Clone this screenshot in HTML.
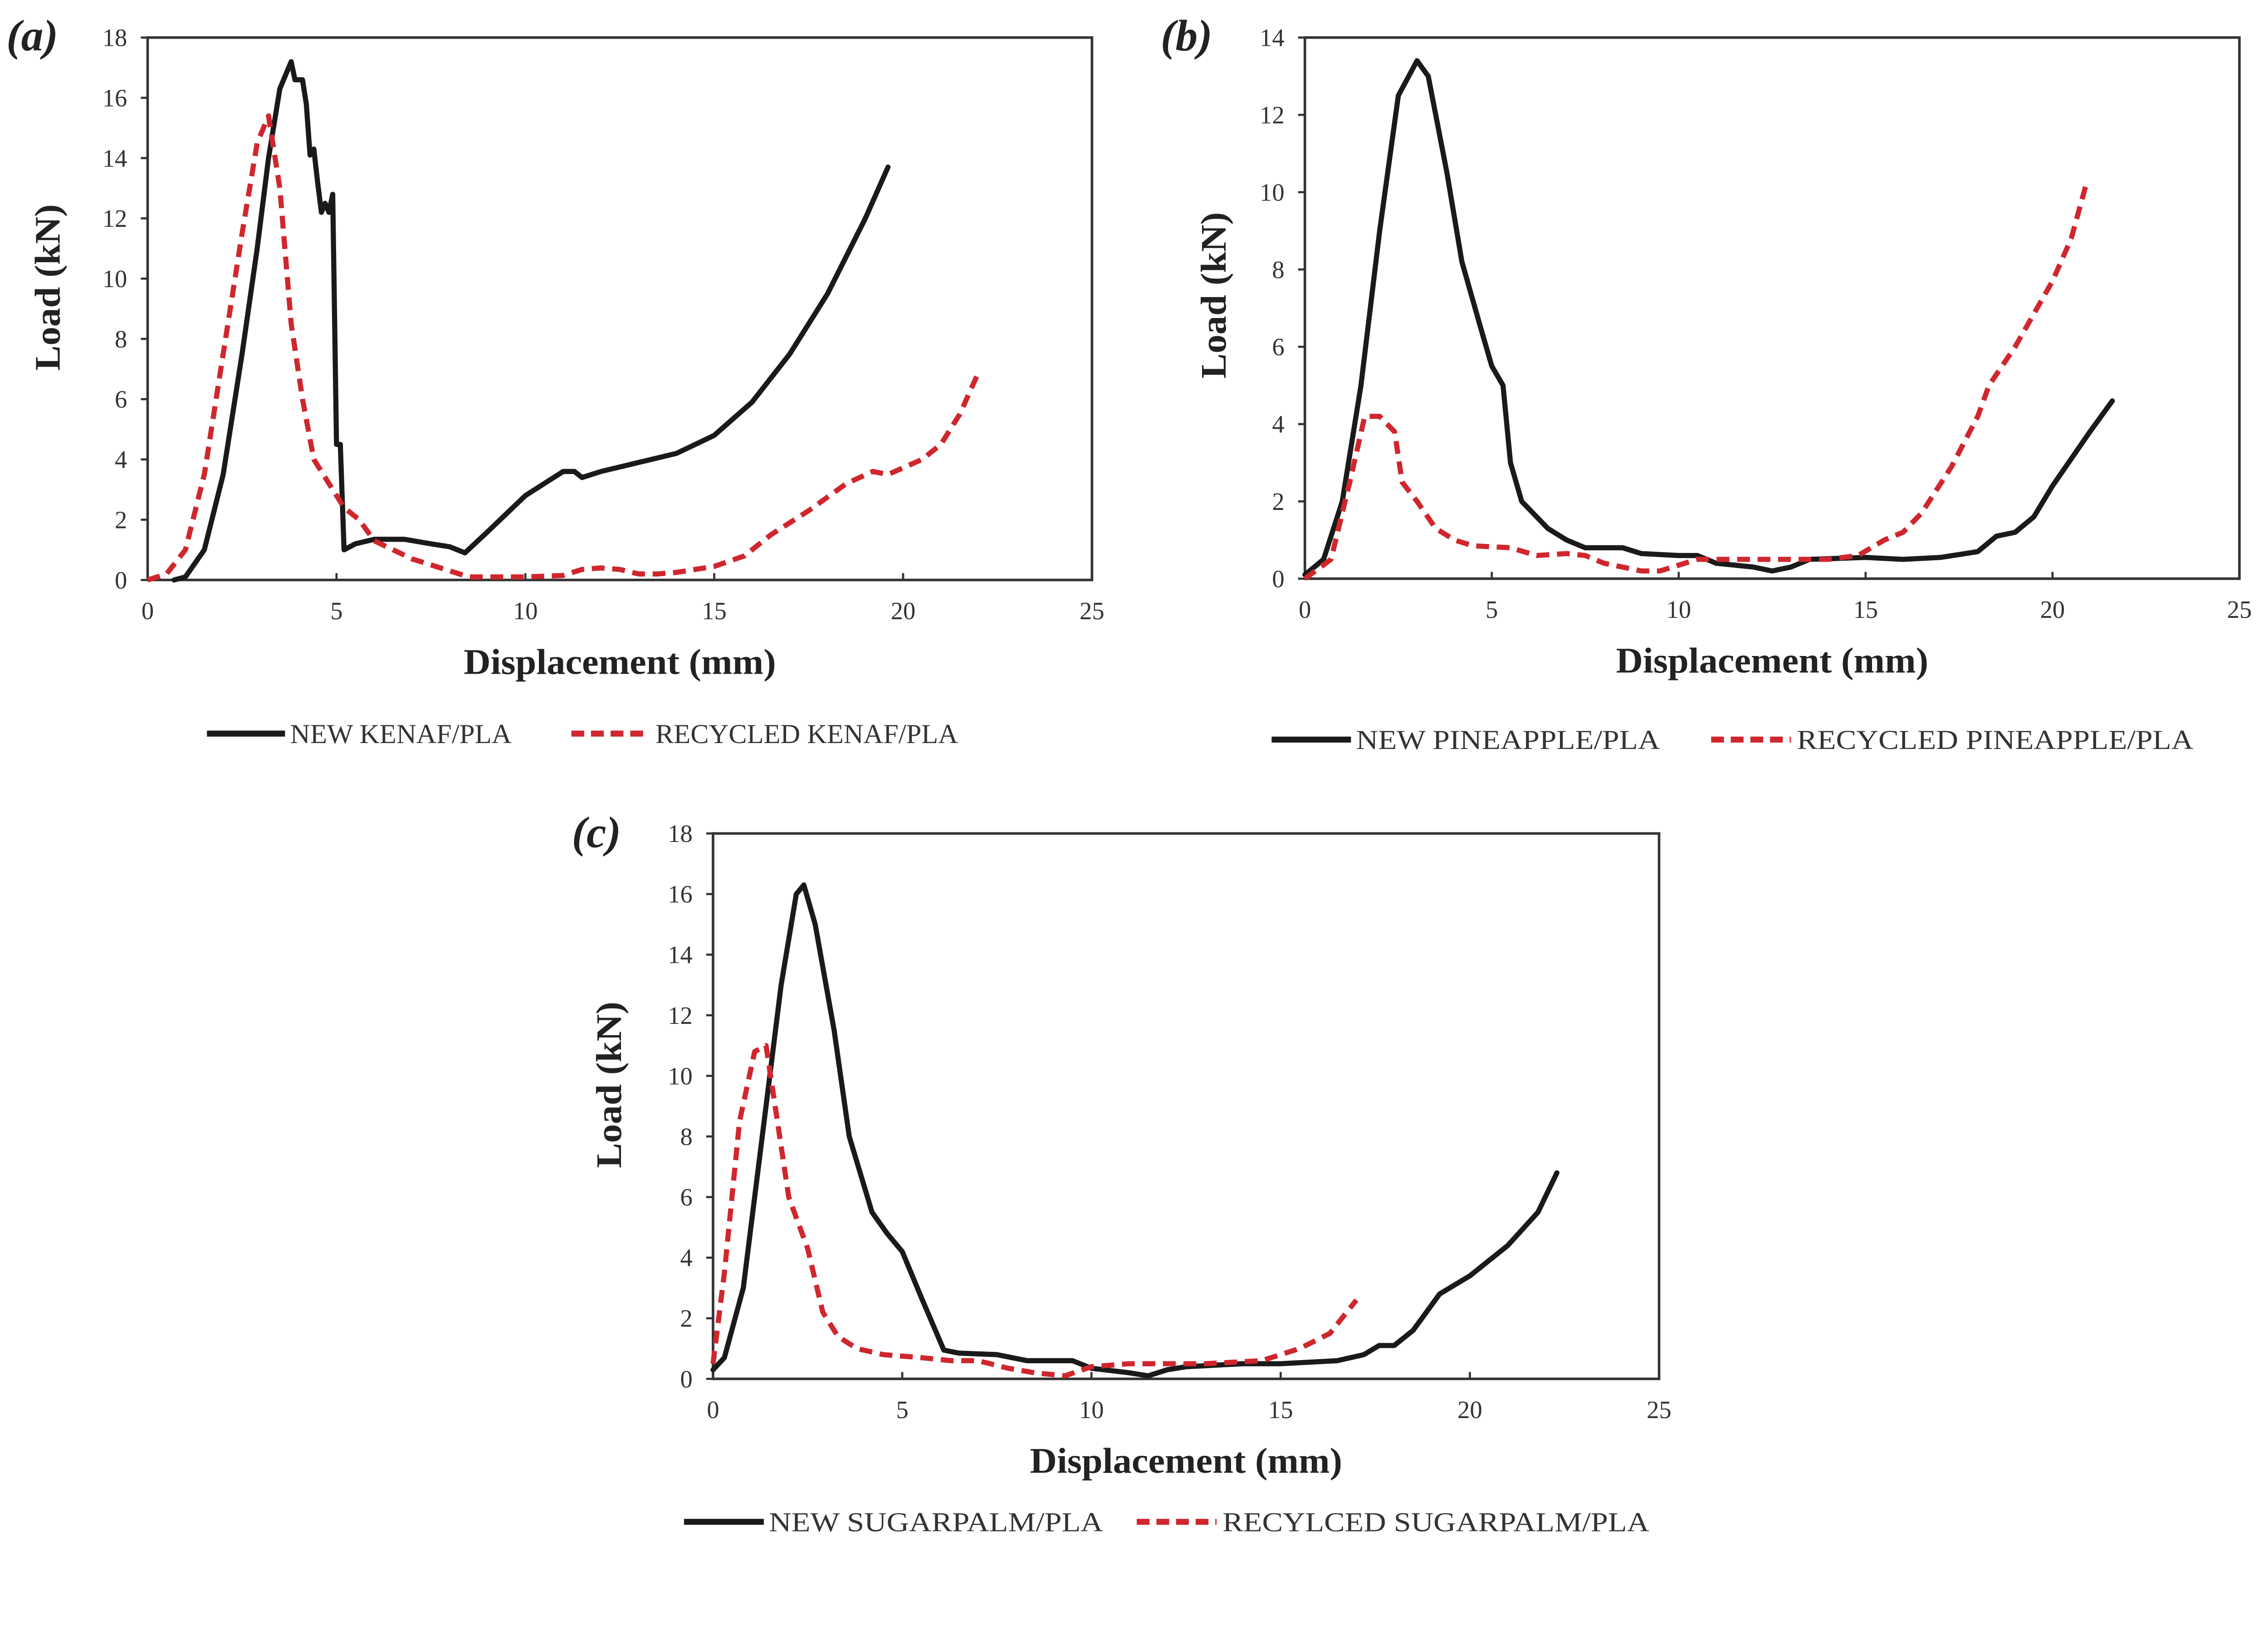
<!DOCTYPE html>
<html><head><meta charset="utf-8"><style>
html,body{margin:0;padding:0;background:#fff;overflow:hidden;}
svg{display:block;width:100vw;height:auto;}
</style></head><body>
<svg id="fig" viewBox="0 0 5315 3635" preserveAspectRatio="xMinYMin meet" xmlns="http://www.w3.org/2000/svg"></svg>
<script>
const xTicks=[0,5,10,15,20,25];
const yTicksAC=[0,2,4,6,8,10,12,14,16,18];
const yTicksB=[0,2,4,6,8,10,12,14];

const newKenaf=[[0.7,0],[1,0.1],[1.5,1],[2,3.5],[2.5,7.5],[2.9,11],[3.2,14],[3.5,16.3],[3.8,17.2],[3.9,16.6],[4.1,16.6],[4.2,15.8],[4.3,14.1],[4.4,14.3],[4.5,13.2],[4.6,12.2],[4.7,12.5],[4.8,12.2],[4.9,12.8],[5.0,4.5],[5.1,4.5],[5.2,1.0],[5.5,1.2],[6,1.35],[6.8,1.35],[7.5,1.2],[8,1.1],[8.4,0.9],[9,1.6],[10,2.8],[10.5,3.2],[11,3.6],[11.3,3.6],[11.5,3.4],[12,3.6],[13,3.9],[14,4.2],[15,4.8],[16,5.9],[17,7.5],[18,9.5],[19,12],[19.6,13.7]];
const recKenaf=[[0,0],[0.5,0.2],[1,1],[1.5,3.5],[2,7.5],[2.5,11.5],[2.9,14.5],[3.2,15.4],[3.5,13],[3.8,8.5],[4.1,6],[4.4,4],[4.8,3.2],[5.2,2.4],[5.6,2.0],[6,1.3],[7,0.7],[8,0.3],[8.5,0.1],[9,0.1],[10,0.1],[11,0.15],[11.5,0.35],[12,0.4],[12.5,0.35],[13,0.2],[13.5,0.2],[14,0.25],[15,0.45],[15.8,0.8],[16.5,1.5],[17.5,2.3],[18.5,3.2],[19.2,3.6],[19.6,3.5],[20.5,4.0],[21,4.5],[21.5,5.5],[22,6.9]];
const newPine=[[0,0.1],[0.5,0.5],[1,2],[1.5,5],[2,9],[2.5,12.5],[3,13.4],[3.3,13],[3.8,10.5],[4.2,8.2],[4.7,6.5],[5,5.5],[5.3,5],[5.5,3],[5.8,2],[6.2,1.6],[6.5,1.3],[7,1],[7.5,0.8],[8.5,0.8],[9,0.65],[10,0.6],[10.5,0.6],[11,0.4],[12,0.3],[12.5,0.2],[13,0.3],[13.5,0.5],[15,0.55],[16,0.5],[17,0.55],[18,0.7],[18.5,1.1],[19,1.2],[19.5,1.6],[20,2.4],[21,3.8],[21.6,4.6]];
const recPine=[[0,0],[0.7,0.5],[1.2,2.5],[1.6,4.2],[2,4.2],[2.4,3.8],[2.6,2.5],[3,2],[3.5,1.3],[4,1],[4.5,0.85],[5.5,0.8],[6.2,0.6],[7,0.65],[7.5,0.6],[8,0.4],[9,0.2],[9.5,0.2],[10,0.35],[10.5,0.5],[12,0.5],[14,0.5],[14.8,0.6],[15.5,1.0],[16,1.2],[16.5,1.7],[17.3,2.9],[18,4.2],[18.3,5],[19,6],[20,7.7],[20.5,8.8],[20.9,10.2]];
const newSugar=[[0,0.3],[0.3,0.7],[0.8,3],[1.3,8],[1.8,13],[2.2,16],[2.4,16.3],[2.7,15],[3.2,11.5],[3.6,8],[4.2,5.5],[4.6,4.8],[5,4.2],[5.5,2.7],[6.1,0.95],[6.5,0.85],[7.5,0.8],[8.3,0.6],[9,0.6],[9.5,0.6],[10,0.35],[11,0.2],[11.5,0.1],[12,0.3],[12.5,0.4],[14,0.5],[15,0.5],[16.5,0.6],[17.2,0.8],[17.6,1.1],[18,1.1],[18.5,1.6],[19.2,2.8],[19.6,3.1],[20,3.4],[21,4.4],[21.8,5.5],[22.3,6.8]];
const recSugar=[[0,0.5],[0.3,3.5],[0.7,8.5],[1.1,10.8],[1.4,11],[1.7,8.5],[2,6],[2.5,4.3],[2.9,2.2],[3.3,1.4],[3.8,1],[4.5,0.8],[5.5,0.7],[6.3,0.6],[7,0.6],[7.8,0.35],[8.5,0.2],[9.3,0.1],[10,0.4],[11,0.5],[13,0.5],[14.5,0.6],[15.5,1],[16.3,1.5],[17,2.6]];

const NS='http://www.w3.org/2000/svg';
const svg=document.getElementById('fig');
function mk(tag,attrs,parent){const e=document.createElementNS(NS,tag);for(const k in attrs)e.setAttribute(k,attrs[k]);(parent||svg).appendChild(e);return e;}
function txt(s,attrs,parent){const e=mk('text',attrs,parent);e.textContent=s;return e;}

function panel(cfg){
  const g=mk('g',{});
  
  
  const ymax=cfg.yTicks[cfg.yTicks.length-1];
  const sx=v=>cfg.x0+(v/25)*(cfg.x1-cfg.x0);
  const sy=v=>cfg.y1-(v/ymax)*(cfg.y1-cfg.y0);
  const frame=mk('rect',{x:cfg.x0,y:cfg.y0,width:cfg.x1-cfg.x0,height:cfg.y1-cfg.y0,fill:'none',stroke:'#333',"stroke-width":6},g);
  
  
  xTicks.forEach(t=>{
    const tk=mk('line',{x1:sx(t),x2:sx(t),y1:cfg.y1,y2:cfg.y1-16,stroke:'#333',"stroke-width":5},g);
    
    
    const l=txt(String(t),{x:sx(t),y:cfg.y1+92,"text-anchor":"middle","font-family":"Liberation Serif, serif","font-size":58,fill:'#333'},g);
    
    
  });
  cfg.yTicks.forEach(t=>{
    const tk=mk('line',{x1:cfg.x0,x2:cfg.x0-16,y1:sy(t),y2:sy(t),stroke:'#333',"stroke-width":5},g);
    
    
    const l=txt(String(t),{x:cfg.x0-48,y:sy(t)+20,"text-anchor":"end","font-family":"Liberation Serif, serif","font-size":58,fill:'#333'},g);
    
    
  });
  const xt=txt('Displacement (mm)',{x:(cfg.x0+cfg.x1)/2-366,y:cfg.y1+220,"font-family":"Liberation Serif, serif","font-weight":"bold","font-size":84,fill:'#222',textLength:732,lengthAdjust:'spacingAndGlyphs'},g);
  
  
  const ycx=cfg.ytx, ycy=(cfg.y0+cfg.y1)/2+cfg.yoff;
  const yt=txt('Load (kN)',{x:ycx-195,y:ycy,"font-family":"Liberation Serif, serif","font-weight":"bold","font-size":84,fill:'#222',textLength:390,lengthAdjust:'spacingAndGlyphs',transform:`rotate(-90 ${ycx} ${ycy})`},g);
  
  
  const pl=txt(cfg.label,{x:cfg.lx,y:cfg.ly,"font-family":"Liberation Serif, serif","font-style":"italic","font-weight":"bold","font-size":104,fill:'#222'},g);
  
  
  const pathOf=d=>d.map((p,i)=>(i?'L':'M')+sx(p[0]).toFixed(1)+' '+sy(p[1]).toFixed(1)).join(' ');
  const n=mk('path',{d:pathOf(cfg.newData),fill:'none',stroke:'#1a1a1a',"stroke-width":12,"stroke-linejoin":"round","stroke-linecap":"round"},g);
  
  
  const r=mk('path',{d:pathOf(cfg.recData),fill:'none',stroke:'#d0262d',"stroke-width":12,"stroke-dasharray":"30 18","stroke-linejoin":"round"},g);
  
  
  const L=cfg.leg;
  const l1=mk('line',{x1:L.a1,x2:L.a2,y1:L.y,y2:L.y,stroke:'#1a1a1a',"stroke-width":14},g);
  
  
  const t1=txt(L.t1,{x:L.a2+12,y:L.y+22,"font-family":"Liberation Serif, serif","font-size":64,fill:'#333',textLength:L.w1,lengthAdjust:'spacingAndGlyphs'},g);
  
  
  const l2=mk('line',{x1:L.b1,x2:L.b2,y1:L.y,y2:L.y,stroke:'#d0262d',"stroke-width":14,"stroke-dasharray":"30 16"},g);
  
  
  const t2=txt(L.t2,{x:L.b2+14,y:L.y+22,"font-family":"Liberation Serif, serif","font-size":64,fill:'#333',textLength:L.w2,lengthAdjust:'spacingAndGlyphs'},g);
  
  
}

panel({name:'panel-a-kenaf',x0:346,x1:2559,y0:88,y1:1359,yTicks:yTicksAC,ytx:140,yoff:-50,label:'(a)',lx:15,ly:118,newData:newKenaf,recData:recKenaf,
  leg:{y:1719,a1:485,a2:668,b1:1339,b2:1522,t1:'NEW KENAF/PLA',t2:'RECYCLED KENAF/PLA',w1:519,w2:709}});
panel({name:'panel-b-pineapple',x0:3058,x1:5248,y0:88,y1:1356,yTicks:yTicksB,ytx:2872,yoff:-30,label:'(b)',lx:2720,ly:118,newData:newPine,recData:recPine,
  leg:{y:1733,a1:2980,a2:3166,b1:4010,b2:4197,t1:'NEW PINEAPPLE/PLA',t2:'RECYCLED PINEAPPLE/PLA',w1:712,w2:929}});
panel({name:'panel-c-sugarpalm',x0:1671,x1:3888,y0:1953,y1:3231,yTicks:yTicksAC,ytx:1455,yoff:-50,label:'(c)',lx:1340,ly:1985,newData:newSugar,recData:recSugar,
  leg:{y:3566,a1:1603,a2:1790,b1:2664,b2:2851,t1:'NEW SUGARPALM/PLA',t2:'RECYLCED SUGARPALM/PLA',w1:783,w2:1000}});
</script>
</body></html>
